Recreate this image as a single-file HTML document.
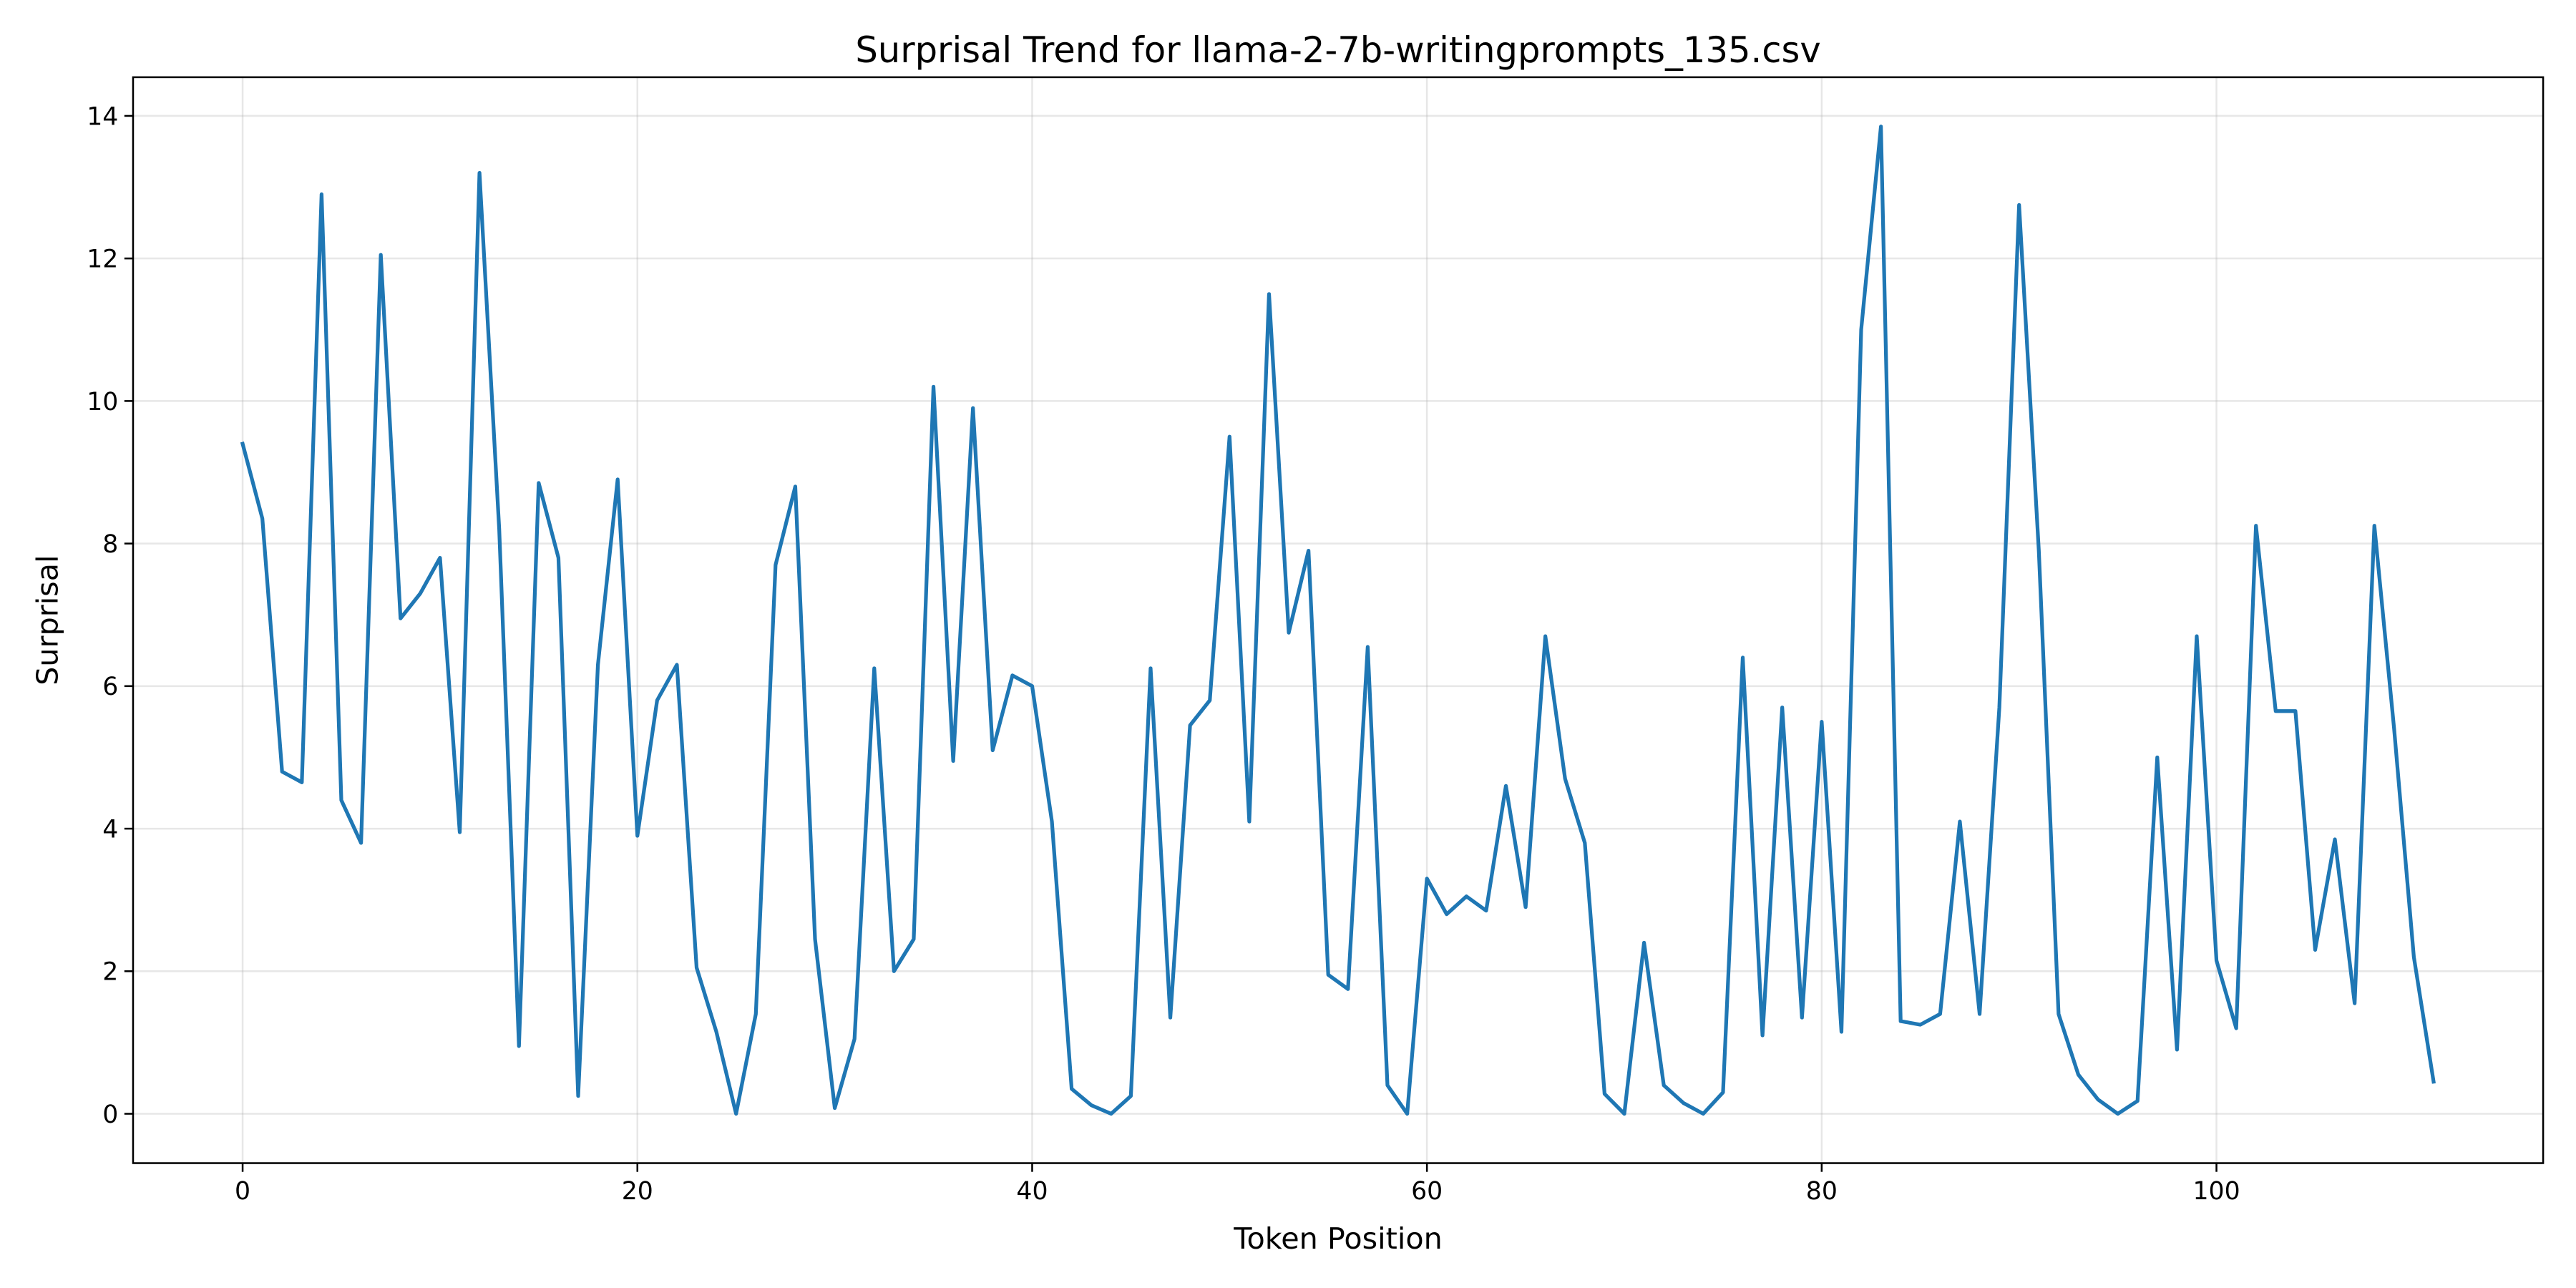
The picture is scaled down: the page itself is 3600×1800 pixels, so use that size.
<!DOCTYPE html>
<html><head><meta charset="utf-8"><style>html,body{margin:0;padding:0;background:#fff}svg{display:block}</style></head>
<body>
<svg id="chart" width="3600" height="1800" viewBox="0 0 1568 784" xmlns="http://www.w3.org/2000/svg" font-family="'DejaVu Sans','Liberation Sans',sans-serif">
<rect width="1568" height="784" fill="#fff"/>
<g id="grid"></g>
<g id="ticks"></g>
<polyline id="line" fill="none" stroke="#1f77b4" stroke-width="2.27" stroke-linejoin="round" stroke-linecap="square"/>
<rect x="81" y="47" width="1467" height="661" fill="none" stroke="#000" stroke-width="1.1"/>
<text x="814.5" y="38" font-size="21.6" text-anchor="middle">Surprisal Trend for llama-2-7b-writingprompts_135.csv</text>
<text x="814.5" y="760" font-size="18" text-anchor="middle">Token Position</text>
<text transform="translate(35,377.5) rotate(-90)" font-size="18" text-anchor="middle">Surprisal</text>
</svg>
<script>
const values = [9.4,8.35,4.8,4.65,12.9,4.4,3.8,12.05,6.95,7.3,7.8,3.95,13.2,8.2,0.95,8.85,7.8,0.25,6.3,8.9,3.9,5.8,6.3,2.05,1.15,0.0,1.4,7.7,8.8,2.45,0.08,1.05,6.25,2.0,2.45,10.2,4.95,9.9,5.1,6.15,6.0,4.1,0.35,0.12,0.0,0.25,6.25,1.35,5.45,5.8,9.5,4.1,11.5,6.75,7.9,1.95,1.75,6.55,0.4,0.0,3.3,2.8,3.05,2.85,4.6,2.9,6.7,4.7,3.8,0.28,0.0,2.4,0.4,0.15,0.0,0.3,6.4,1.1,5.7,1.35,5.5,1.15,11.0,13.85,1.3,1.25,1.4,4.1,1.4,5.7,12.75,7.9,1.4,0.55,0.2,0.0,0.18,5.0,0.9,6.7,2.15,1.2,8.25,5.65,5.65,2.3,3.85,1.55,8.25,5.4,2.2,0.45];
const xTicks = [0,20,40,60,80,100];
const yTicks = [0,2,4,6,8,10,12,14];

const L=81,R=1548,T=47,B=708;
const n=values.length;
const xmin=-(n-1)*0.05, xmax=(n-1)*1.05;
const vmin=Math.min(...values), vmax=Math.max(...values), pad=(vmax-vmin)*0.05;
const ymin=vmin-pad, ymax=vmax+pad;
const sx=v=>L+(v-xmin)/(xmax-xmin)*(R-L);
const sy=v=>B-(v-ymin)/(ymax-ymin)*(B-T);
const NS="http://www.w3.org/2000/svg";
const grid=document.getElementById('grid'), ticks=document.getElementById('ticks');
function mk(tag,attrs,parent){const e=document.createElementNS(NS,tag);for(const k in attrs)e.setAttribute(k,attrs[k]);parent.appendChild(e);return e;}
xTicks.forEach(t=>{
  const x=sx(t);
  const g=mk('line',{x1:x,x2:x,y1:T,y2:B,stroke:'#b0b0b0','stroke-opacity':0.3,'stroke-width':1.1},grid);
  
  
  const tk=mk('line',{x1:x,x2:x,y1:B,y2:B+5.3,stroke:'#000','stroke-width':1.1},ticks);
  
  
  const lb=mk('text',{x:x,y:B+22,'font-size':15.1,'text-anchor':'middle'},ticks);
  lb.textContent=t;
  
  
});
yTicks.forEach(t=>{
  const y=sy(t);
  const g=mk('line',{x1:L,x2:R,y1:y,y2:y,stroke:'#b0b0b0','stroke-opacity':0.3,'stroke-width':1.1},grid);
  
  
  const tk=mk('line',{x1:L-5.3,x2:L,y1:y,y2:y,stroke:'#000','stroke-width':1.1},ticks);
  
  
  const lb=mk('text',{x:L-9,y:y+5.4,'font-size':15.1,'text-anchor':'end'},ticks);
  lb.textContent=t;
  
  
});
document.getElementById('line').setAttribute('points',values.map((v,i)=>sx(i).toFixed(2)+','+sy(v).toFixed(2)).join(' '));
</script>
</body></html>
